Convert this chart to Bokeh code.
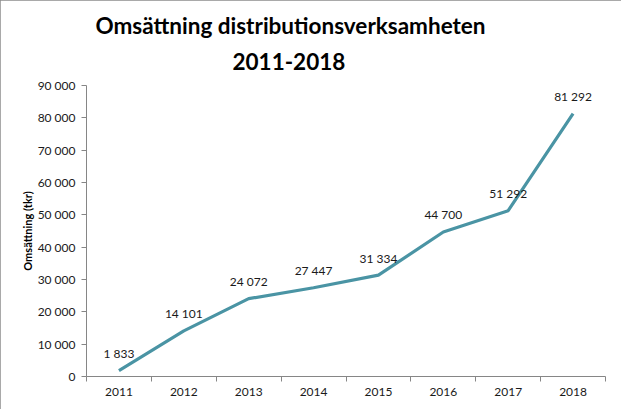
from bokeh.plotting import figure
from bokeh.models import Title, FixedTicker, ColumnDataSource, Range1d
from bokeh.core.properties import value
from bokeh.embed import file_html
from bokeh.resources import INLINE

title_line1 = "Omsättning distributionsverksamheten"
title_line2 = "2011-2018"
y_label = "Omsättning (tkr)"
years = [2011, 2012, 2013, 2014, 2015, 2016, 2017, 2018]
revenue = [1833, 14101, 24072, 27447, 31334, 44700, 51292, 81292]
y_ticks = [0, 10000, 20000, 30000, 40000, 50000, 60000, 70000, 80000, 90000]

def fmt(v):
    return f"{v:,}".replace(",", " ")

FONT = "Lato"
TXT = "#1a1a1a"
AX = "#868686"
LINE = "#4a94a4"

p = figure(width=621, height=409, output_backend="svg", toolbar_location=None,
           x_range=Range1d(years[0] - 0.5, years[-1] + 0.5),
           y_range=Range1d(y_ticks[0], y_ticks[-1]),
           min_border_left=86, min_border_right=16, min_border_top=85, min_border_bottom=33)
p.styles = {"outline": "1px solid #8c8c8c", "outline-offset": "-1px"}
p.outline_line_color = None
p.xgrid.grid_line_color = None
p.ygrid.grid_line_color = None
p.background_fill_color = "white"
p.border_fill_color = "white"

# first added sits closest to the plot
p.add_layout(Title(text=title_line2, align="left", offset=146,
                   text_font=FONT, text_font_size="22.5px", text_font_style="bold",
                   text_color="black", standoff=32), "above")
p.add_layout(Title(text=title_line1, align="left", offset=9,
                   text_font=FONT, text_font_size="22.5px", text_font_style="bold",
                   text_color="black", standoff=-9), "above")

src = ColumnDataSource(dict(x=years, y=revenue, lab=[fmt(v) for v in revenue]))
p.line("x", "y", source=src, line_color=LINE, line_width=3.2)
p.text("x", "y", text="lab", source=src, text_align="center", text_baseline="middle",
       y_offset=-17, text_font=value(FONT), text_font_size="12px", text_color=TXT)

# x axis: labels at year centres, tick marks at boundaries
half = 0.5
p.xaxis.ticker = FixedTicker(ticks=years, minor_ticks=[y - half for y in years] + [years[-1] + half])
p.xaxis.major_tick_out = 0
p.xaxis.major_tick_in = 0
p.xaxis.minor_tick_out = 5
p.xaxis.minor_tick_in = 0
p.xaxis.minor_tick_line_color = AX
p.xaxis.major_label_overrides = {y: str(y) for y in years}
p.xaxis.major_label_standoff = 6
p.xaxis.axis_line_color = AX
p.xaxis.major_label_text_font = FONT
p.xaxis.major_label_text_font_size = "12px"
p.xaxis.major_label_text_color = TXT

p.yaxis.ticker = FixedTicker(ticks=y_ticks, minor_ticks=[])
p.yaxis.major_label_overrides = {t: fmt(t) for t in y_ticks}
p.yaxis.major_tick_out = 5
p.yaxis.major_tick_in = 0
p.yaxis.major_tick_line_color = AX
p.yaxis.minor_tick_line_color = None
p.yaxis.axis_line_color = AX
p.yaxis.major_label_text_font = FONT
p.yaxis.major_label_text_font_size = "12px"
p.yaxis.major_label_text_color = TXT
p.yaxis.major_label_standoff = 6
p.yaxis.axis_label = y_label
p.yaxis.axis_label_text_font = FONT
p.yaxis.axis_label_text_font_size = "11px"
p.yaxis.axis_label_text_font_style = "bold"
p.yaxis.axis_label_text_color = "black"
p.yaxis.axis_label_standoff = 1

open("out.html", "w").write(file_html(p, INLINE))
